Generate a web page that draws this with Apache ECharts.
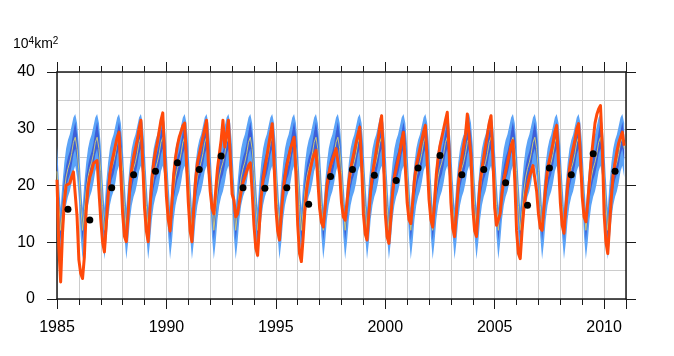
<!DOCTYPE html>
<html>
<head>
<meta charset="utf-8">
<script src="https://cdn.jsdelivr.net/npm/echarts@6/dist/echarts.min.js"></script>
<style>
html,body{margin:0;padding:0;background:#fff;}
#chart{width:674px;height:356px;}
</style>
</head>
<body>
<div id="chart"></div>
<script>
// ---- data ----
const YEARS = [1985,1986,1987,1988,1989,1990,1991,1992,1993,1994,1995,1996,1997,
               1998,1999,2000,2001,2002,2003,2004,2005,2006,2007,2008,2009,2010];
const MONTH_OFFSETS = [0,1,2,3,4,5,6,7,8,9,10,11]; // months Jan..Dec
// climatological ensemble band (Jan..Dec), 10^4 km^2
const climCenter    = [22.5, 16.5, 12.1, 15.6, 19.2, 21.5, 23.0, 24.1, 25.6, 27.6, 28.5, 26.5];
const climOuterLow  = [17.5, 11.0,  7.0, 10.0, 14.0, 16.5, 18.0, 19.0, 20.5, 22.5, 23.5, 21.5];
const climOuterHigh = [27.0, 21.0, 16.0, 20.5, 24.0, 26.5, 28.0, 29.0, 30.5, 32.0, 32.6, 31.0];
const climInnerLow  = [20.5, 14.5, 10.3, 13.5, 17.5, 19.5, 21.0, 22.0, 23.5, 25.5, 26.5, 24.5];
const climInnerHigh = [24.5, 18.5, 13.8, 17.8, 21.5, 23.5, 25.0, 26.0, 27.5, 29.5, 31.2, 29.0];
// observed monthly values, one row per year (Jan..Dec)
const observed = [
  [21.0, 9.0, 3.0, 11.5, 17.0, 20.0, 20.3, 20.4, 21.5, 22.4, 22.7, 14.5],
  [ 6.9, 4.5, 3.6,  7.4, 15.6, 19.7, 21.5, 22.5, 23.9, 24.2, 24.4, 19.0],
  [14.0,10.0, 8.3, 13.0, 18.0, 22.0, 24.0, 25.5, 27.0, 28.5, 29.4, 22.0],
  [15.0,11.0,10.1, 15.0, 20.0, 23.0, 25.0, 26.5, 28.0, 30.0, 31.5, 24.0],
  [16.0,12.0,10.1, 16.0, 21.0, 24.0, 26.0, 27.5, 29.5, 31.5, 32.8, 25.0],
  [18.0,14.0,12.0, 17.0, 22.0, 25.0, 27.0, 28.5, 29.5, 30.5, 31.0, 24.0],
  [17.0,12.0,10.1, 16.0, 21.0, 24.0, 25.5, 27.0, 28.5, 30.0, 31.5, 24.0],
  [19.0,16.0,15.0, 19.0, 23.0, 25.5, 28.0, 31.5, 26.8, 29.0, 31.5, 25.0],
  [18.5,17.4,14.5, 15.0, 17.0, 19.0, 20.5, 21.5, 22.5, 23.5, 24.0, 19.0],
  [13.0, 9.0, 7.7, 13.0, 18.0, 21.0, 23.0, 25.0, 27.0, 29.0, 30.9, 24.0],
  [16.0,12.0,10.4, 15.0, 19.0, 21.5, 23.5, 25.0, 26.5, 27.5, 28.5, 22.0],
  [13.0, 8.0, 6.6, 11.0, 16.0, 19.5, 21.5, 23.0, 24.5, 25.5, 26.2, 21.0],
  [16.0,13.5,12.7, 16.0, 20.0, 22.0, 23.5, 24.5, 25.5, 26.5, 26.8, 22.0],
  [17.0,14.5,13.9, 17.0, 20.5, 23.0, 24.5, 26.0, 27.5, 29.0, 30.3, 24.0],
  [15.0,11.5,10.4, 15.0, 19.0, 22.0, 24.0, 26.0, 28.0, 30.5, 32.3, 25.0],
  [15.0,11.0, 9.8, 14.0, 18.5, 21.5, 23.0, 24.5, 26.0, 28.0, 29.4, 23.0],
  [17.0,14.0,13.3, 17.0, 21.0, 23.5, 25.0, 26.5, 28.0, 29.5, 30.6, 24.0],
  [17.5,14.0,12.7, 17.0, 22.0, 25.0, 27.0, 28.5, 30.0, 31.5, 32.9, 26.0],
  [17.0,12.5,11.0, 15.0, 20.0, 23.0, 25.0, 27.0, 29.0, 32.6, 32.6, 25.0],
  [16.0,12.0,11.0, 16.0, 20.5, 23.0, 25.0, 27.0, 29.0, 31.0, 32.3, 25.0],
  [16.0,13.0,12.7, 15.0, 18.5, 21.0, 22.5, 24.0, 25.5, 27.0, 27.9, 21.0],
  [12.0, 8.0, 7.1, 12.0, 16.0, 18.5, 20.0, 21.5, 22.5, 23.5, 23.8, 19.0],
  [15.0,12.5,12.1, 16.0, 20.0, 23.0, 24.5, 26.0, 27.5, 29.5, 30.6, 24.0],
  [17.0,13.0,11.6, 16.0, 20.0, 23.0, 25.0, 26.5, 28.0, 30.0, 30.9, 25.0],
  [18.0,14.5,13.6, 17.0, 21.0, 25.0, 28.0, 31.0, 32.5, 33.5, 34.1, 27.0],
  [15.0,10.0, 8.0, 13.0, 18.0, 22.0, 24.0, 26.0, 27.5, 28.5, 29.4, 27.0]
];
// annual means (plotted at mid-year)
const annualMean = [15.8,13.9,19.6,21.9,22.5,24.0,22.8,25.2,19.6,19.5,19.6,16.7,21.6,
                    22.8,21.8,20.9,23.1,25.3,21.9,22.8,20.5,16.5,23.1,21.9,25.6,22.5];
const X_TICKS = [1985,1990,1995,2000,2005,2010];

// ---- build series data ----
const t = [];
YEARS.forEach(y => MONTH_OFFSETS.forEach(m => t.push(y + m / 12)));
const rep = arr => YEARS.flatMap(() => arr);
const oLow = rep(climOuterLow), oHigh = rep(climOuterHigh);
const iLow = rep(climInnerLow), iHigh = rep(climInnerHigh);
const cen = rep(climCenter);
const obs = observed.flat();
const pairs = vals => vals.map((v, i) => [t[i], v]);

function bandSeries(name, lo, hi, color, z) {
  return {
    type: 'custom', name, silent: true, z, clip: true,
    data: [[t[0], lo[0]]],
    encode: {x: 0, y: 1},
    renderItem: (params, api) => {
      const pts = [];
      for (let i = 0; i < t.length; i++) pts.push(api.coord([t[i], hi[i]]));
      for (let i = t.length - 1; i >= 0; i--) pts.push(api.coord([t[i], lo[i]]));
      return {type: 'polygon', shape: {points: pts}, style: {fill: color, stroke: null}};
    }
  };
}

const chart = echarts.init(document.getElementById('chart'), null, {renderer: 'canvas'});
const FONT = 'Liberation Sans, Arial, Helvetica, sans-serif';
const axisLineStyle = {color: '#1a1a1a', width: 1.5};
const gridLineStyle = {color: '#cccccc', width: 1};
const tickStyle = {color: '#1a1a1a', width: 1};

chart.setOption({
  animation: false,
  backgroundColor: '#ffffff',
  grid: {left: 57, right: 48, top: 72, bottom: 57, containLabel: false},
  xAxis: [
    {
      type: 'value', position: 'bottom', min: 1985, max: 2011, interval: 5,
      axisLine: {show: true, onZero: false, lineStyle: axisLineStyle},
      axisTick: {show: true, inside: false, length: 10, lineStyle: tickStyle},
      minorTick: {show: true, splitNumber: 5, length: 6, lineStyle: tickStyle},
      splitLine: {show: true, lineStyle: gridLineStyle},
      minorSplitLine: {show: true, lineStyle: gridLineStyle},
      axisLabel: {show: true, margin: 21, fontSize: 16, color: '#000', fontFamily: FONT,
        formatter: v => X_TICKS.includes(v) ? String(v) : ''}
    },
    {
      type: 'value', position: 'top', min: 1985, max: 2011, interval: 5,
      axisLine: {show: true, onZero: false, lineStyle: axisLineStyle},
      axisTick: {show: true, inside: false, length: 10, lineStyle: tickStyle},
      minorTick: {show: true, splitNumber: 5, length: 6, lineStyle: tickStyle},
      splitLine: {show: false}, axisLabel: {show: false}
    }
  ],
  yAxis: [
    {
      type: 'value', position: 'left', min: 0, max: 40, interval: 10,
      name: '10{s|4}km{s|2}', nameLocation: 'end', nameGap: 19,
      nameTextStyle: {fontSize: 14, color: '#000', fontFamily: FONT, align: 'left', padding: [0,0,0,-44],
        rich: {s: {fontSize: 10, verticalAlign: 'top', padding: [0,0,7,0], color: '#000', fontFamily: FONT}}},
      axisLine: {show: true, onZero: false, lineStyle: axisLineStyle},
      axisTick: {show: true, inside: false, length: 10, lineStyle: tickStyle},
      splitLine: {show: true, lineStyle: gridLineStyle},
      minorTick: {show: false, splitNumber: 2},
      minorSplitLine: {show: true, lineStyle: gridLineStyle},
      axisLabel: {show: true, margin: 22, fontSize: 16, color: '#000', fontFamily: FONT}
    },
    {
      type: 'value', position: 'right', min: 0, max: 40, interval: 10,
      axisLine: {show: true, onZero: false, lineStyle: axisLineStyle},
      axisTick: {show: true, inside: false, length: 10, lineStyle: tickStyle},
      splitLine: {show: false}, axisLabel: {show: false}
    }
  ],
  series: [
    bandSeries('outer', oLow, oHigh, '#5ba3f7', 1),
    bandSeries('inner', iLow, iHigh, '#3d5fd8', 2),
    {type: 'line', name: 'center', data: pairs(cen), symbol: 'none',
     lineStyle: {color: '#c9c77a', width: 1}, z: 3},
    {type: 'line', name: 'observed', data: pairs(obs), symbol: 'none',
     lineStyle: {color: '#ff4a0a', width: 3, join: 'round'}, z: 4},
    {type: 'scatter', name: 'annual', data: YEARS.map((y, i) => [y + 0.5, annualMean[i]]),
     symbol: 'circle', symbolSize: 7, itemStyle: {color: '#000', opacity: 1}, z: 5}
  ]
});
</script>
</body>
</html>
